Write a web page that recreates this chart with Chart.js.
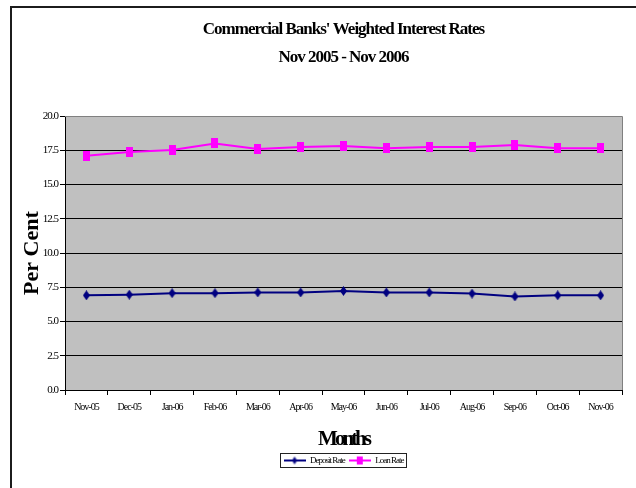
<!DOCTYPE html>
<html>
<head>
<meta charset="utf-8">
<script src="https://cdn.jsdelivr.net/npm/chart.js@4/dist/chart.umd.min.js"></script>
<style>
  html, body { margin: 0; padding: 0; background: #fff; overflow: hidden; }
  #wrap { position: relative; width: 636px; height: 488px; }
  #frame { position: absolute; left: 10px; top: 6px; width: 700px; height: 600px;
           border: 2px solid #1c1c1c; box-sizing: border-box; }
  #c { position: absolute; left: 0; top: 0; }
</style>
</head>
<body>
<div id="wrap">
  <div id="frame"></div>
  <canvas id="c" width="636" height="488"></canvas>
</div>
<script>
// Monthly weighted average rates, per cent
const months = ['Nov-05', 'Dec-05', 'Jan-06', 'Feb-06', 'Mar-06', 'Apr-06', 'May-06',
                'Jun-06', 'Jul-06', 'Aug-06', 'Sep-06', 'Oct-06', 'Nov-06'];
const depositRate = [6.91, 6.96, 7.07, 7.07, 7.12, 7.12, 7.23, 7.12, 7.12, 7.04, 6.83, 6.91, 6.91];
const loanRate = [17.11, 17.38, 17.52, 18.0, 17.6, 17.74, 17.82, 17.65, 17.74, 17.74, 17.89, 17.65, 17.65];
const titleLines = ["Commercial Banks' Weighted Interest Rates", 'Nov 2005 - Nov 2006'];

const SERIF = '"Liberation Serif", "Times New Roman", serif';
const NAVY = '#000080';
const MAGENTA = '#FF00FF';

// Marker sprites
function rectMarker(w, h, color) {
  const c = document.createElement('canvas');
  c.width = w; c.height = h;
  const g = c.getContext('2d');
  g.fillStyle = color;
  g.fillRect(0, 0, w, h);
  return c;
}
function diamondMarker(w, h, color) {
  const c = document.createElement('canvas');
  c.width = w; c.height = h;
  const g = c.getContext('2d');
  g.fillStyle = color;
  g.beginPath();
  g.moveTo(w / 2, 0); g.lineTo(w, h / 2); g.lineTo(w / 2, h); g.lineTo(0, h / 2);
  g.closePath(); g.fill();
  return c;
}
// Legend sample: a short line with the marker in its middle
function legendSample(marker, color) {
  const w = 22, h = 12;
  const c = document.createElement('canvas');
  c.width = w; c.height = h;
  const g = c.getContext('2d');
  g.strokeStyle = color; g.lineWidth = 2;
  g.beginPath(); g.moveTo(0, h / 2); g.lineTo(w, h / 2); g.stroke();
  g.drawImage(marker, (w - marker.width) / 2, (h - marker.height) / 2);
  return c;
}

const depMarker = diamondMarker(7, 10, NAVY);
const loanMarker = rectMarker(7, 10, MAGENTA);
const depLegend = legendSample(diamondMarker(5, 8, NAVY), NAVY);
const loanLegend = legendSample(rectMarker(6, 8, MAGENTA), MAGENTA);

// Condensed lettering: tracking chosen from the font size in use
function trackingFor(font) {
  const m = /(\d+(?:\.\d+)?)px/.exec(font);
  const size = m ? parseFloat(m[1]) : 12;
  if (size === 22) return '0px';
  if (size === 21) return '-3px';
  return '-1px';
}
const condensedText = {
  id: 'condensedText',
  beforeInit(chart) {
    const ctx = chart.ctx;
    const desc = Object.getOwnPropertyDescriptor(CanvasRenderingContext2D.prototype, 'font');
    Object.defineProperty(ctx, 'font', {
      configurable: true,
      get() { return desc.get.call(this); },
      set(v) { desc.set.call(this, v); this.letterSpacing = trackingFor(v); }
    });
  }
};

// Title and legend are centred over the plot area
const centreOnPlot = {
  id: 'centreOnPlot',
  afterLayout(chart) {
    const a = chart.chartArea;
    [chart.titleBlock, chart.legend].forEach(b => {
      if (b) { b.left = a.left; b.right = a.right; b.width = a.right - a.left; }
    });
  }
};

// Grey plot background with a grey frame on top and right
const plotBackground = {
  id: 'plotBackground',
  beforeDraw(chart) {
    const { ctx, chartArea: a } = chart;
    ctx.save();
    ctx.fillStyle = '#C0C0C0';
    ctx.fillRect(a.left, a.top, a.right - a.left, a.bottom - a.top);
    ctx.restore();
  },
  beforeDatasetsDraw(chart) {
    const { ctx, chartArea: a } = chart;
    ctx.save();
    ctx.strokeStyle = '#808080';
    ctx.lineWidth = 1;
    ctx.beginPath();
    ctx.moveTo(a.left, Math.round(a.top) + 0.5);
    ctx.lineTo(Math.round(a.right) + 0.5, Math.round(a.top) + 0.5);
    ctx.lineTo(Math.round(a.right) + 0.5, a.bottom);
    ctx.stroke();
    ctx.restore();
  }
};

// Thin box around the legend entries
const legendBox = {
  id: 'legendBox',
  afterDraw(chart) {
    const lg = chart.legend;
    if (!lg || !lg.legendHitBoxes || !lg.legendHitBoxes.length) return;
    const hb = lg.legendHitBoxes;
    let l = Infinity, r = -Infinity, t = Infinity, b = -Infinity;
    hb.forEach(h => {
      l = Math.min(l, h.left); r = Math.max(r, h.left + h.width);
      t = Math.min(t, h.top); b = Math.max(b, h.top + h.height);
    });
    const ctx = chart.ctx;
    ctx.save();
    ctx.strokeStyle = '#222';
    ctx.lineWidth = 1;
    ctx.strokeRect(Math.round(l - 4) + 0.5, Math.round(t - 3) + 0.5,
                   Math.round(r - l + 6), Math.round(b - t + 5));
    ctx.restore();
  }
};

new Chart(document.getElementById('c'), {
  type: 'line',
  data: {
    labels: months,
    datasets: [
      {
        label: 'Deposit Rate',
        data: depositRate,
        borderColor: NAVY,
        backgroundColor: NAVY,
        borderWidth: 2,
        pointStyle: depMarker,
        tension: 0,
        fill: false
      },
      {
        label: 'Loan Rate',
        data: loanRate,
        borderColor: MAGENTA,
        backgroundColor: MAGENTA,
        borderWidth: 2,
        pointStyle: loanMarker,
        tension: 0,
        fill: false
      }
    ]
  },
  options: {
    responsive: false,
    animation: false,
    devicePixelRatio: 1,
    layout: { padding: { left: 0, right: 14, top: 0, bottom: 13 } },
    plugins: {
      title: {
        display: true,
        text: titleLines,
        color: '#000',
        font: { family: SERIF, size: 17, weight: 'bold', lineHeight: 1.65 },
        padding: { top: 16, bottom: 44 }
      },
      legend: {
        display: true,
        position: 'bottom',
        labels: {
          color: '#000',
          font: { family: SERIF, size: 9 },
          usePointStyle: true,
          pointStyleWidth: 22,
          boxHeight: 9,
          padding: 4,
          generateLabels() {
            return [
              { text: 'Deposit Rate', pointStyle: depLegend, fillStyle: NAVY, strokeStyle: NAVY, lineWidth: 0, datasetIndex: 0, hidden: false },
              { text: 'Loan Rate', pointStyle: loanLegend, fillStyle: MAGENTA, strokeStyle: MAGENTA, lineWidth: 0, datasetIndex: 1, hidden: false }
            ];
          }
        }
      },
      tooltip: { enabled: false }
    },
    scales: {
      x: {
        type: 'category',
        offset: true,
        afterFit(scale) { scale.height = 62; },
        grid: { offset: true, drawOnChartArea: false, drawTicks: true, tickLength: 5, color: '#000' },
        border: { display: true, color: '#000', width: 1 },
        ticks: { color: '#000', font: { family: SERIF, size: 10 }, maxRotation: 0, autoSkip: false, padding: 6 },
        title: {
          display: true,
          text: 'Months',
          color: '#000',
          font: { family: SERIF, size: 21, weight: 'bold' },
          padding: { top: 0, bottom: 0 }
        }
      },
      y: {
        min: 0,
        max: 20,
        afterFit(scale) { scale.width = 65; },
        grid: {
          color: ctx => (ctx.tick && ctx.tick.value === 20 ? '#808080' : '#000'),
          tickColor: '#000',
          lineWidth: 1,
          tickLength: 5
        },
        border: { display: true, color: '#000', width: 1 },
        ticks: {
          stepSize: 2.5,
          color: '#000',
          font: { family: SERIF, size: 11 },
          padding: 2,
          callback: v => Number(v).toFixed(1)
        },
        title: {
          display: true,
          text: 'Per Cent',
          color: '#000',
          font: { family: SERIF, size: 22, weight: 'bold' },
          padding: { top: 19, bottom: 0 }
        }
      }
    }
  },
  plugins: [condensedText, centreOnPlot, plotBackground, legendBox]
});
</script>
</body>
</html>
